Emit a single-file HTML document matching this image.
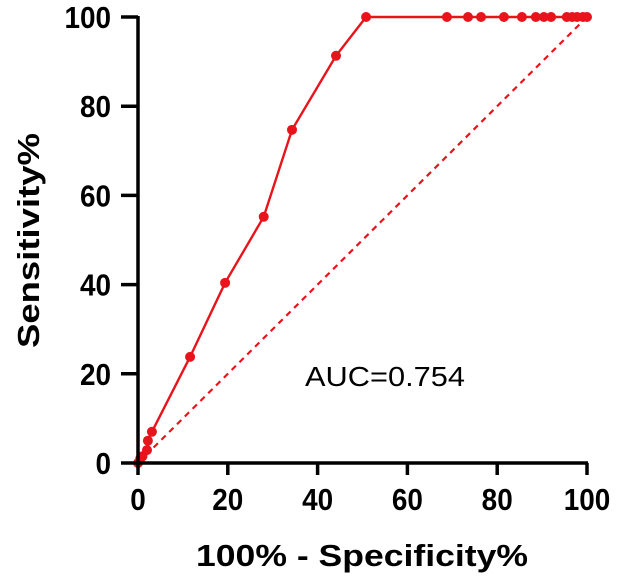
<!DOCTYPE html>
<html><head><meta charset="utf-8"><style>
body{margin:0;background:#fff;}
svg{display:block;font-family:"Liberation Sans",Arial,sans-serif;}
</style></head><body>
<svg id="chart" width="624" height="586" viewBox="0 0 624 586">
<g id="plot"></g>
<text x="196" y="566" font-size="31" font-weight="bold" textLength="332" lengthAdjust="spacingAndGlyphs">100% - Specificity%</text>
<text transform="translate(39,348) rotate(-90)" font-size="31" font-weight="bold" textLength="215" lengthAdjust="spacingAndGlyphs">Sensitivity%</text>
<text x="305" y="386" font-size="28" textLength="160" lengthAdjust="spacingAndGlyphs">AUC=0.754</text>
</svg>
<script>
const fprValues=[0,0.5,1,2,2.2,3.1,11.6,19.4,28,34.3,44.1,50.8,68.8,73.5,76.4,81.5,85.5,88.6,90.4,92,95.5,96.7,97.8,99.1,100];
const tprValues=[0,1,1.5,2.9,5,7,23.8,40.4,55.2,74.7,91.3,100,100,100,100,100,100,100,100,100,100,100,100,100,100];
const xTicks=[0,20,40,60,80,100];
const yTicks=[0,20,40,60,80,100];
const NS="http://www.w3.org/2000/svg";
const g=document.getElementById('plot');
const X=v=>138+v*4.49, Y=v=>463-v*4.46;
function el(t,a){const e=document.createElementNS(NS,t);for(const k in a)e.setAttribute(k,a[k]);g.appendChild(e);return e;}
let e;
e=el('line',{x1:X(0),y1:Y(0),x2:X(100),y2:Y(100),stroke:'#e8141c','stroke-width':2.2,'stroke-dasharray':'6,5'});


e=el('polyline',{points:fprValues.map((v,i)=>X(v)+','+Y(tprValues[i])).join(' '),fill:'none',stroke:'#e8141c','stroke-width':2.4});


fprValues.forEach((v,i)=>{const c=el('circle',{cx:X(v),cy:Y(tprValues[i]),r:5,fill:'#e8141c'});

});
e=el('line',{x1:X(0),y1:Y(0)+1.5,x2:X(0),y2:Y(100)-1,stroke:'#000','stroke-width':3.5});


e=el('line',{x1:X(0)-1.5,y1:Y(0),x2:X(100)+1,y2:Y(0),stroke:'#000','stroke-width':3.5});


xTicks.forEach(t=>{const l=el('line',{x1:X(t),y1:Y(0),x2:X(t),y2:Y(0)+12,stroke:'#000','stroke-width':3.5});


const s=el('text',{x:X(t),y:Y(0)+47,'font-size':31,'font-weight':'bold','text-anchor':'middle',transform:'translate('+X(t)+',0) scale(0.9,1) translate('+(-X(t))+',0)'});s.textContent=t;

});
yTicks.forEach(t=>{const l=el('line',{x1:X(0)-17,y1:Y(t),x2:X(0),y2:Y(t),stroke:'#000','stroke-width':3.5});


const s=el('text',{x:111,y:Y(t)+11,'font-size':31,'font-weight':'bold','text-anchor':'end',transform:'translate(111,0) scale(0.9,1) translate(-111,0)'});s.textContent=t;

});
</script>
</body></html>
